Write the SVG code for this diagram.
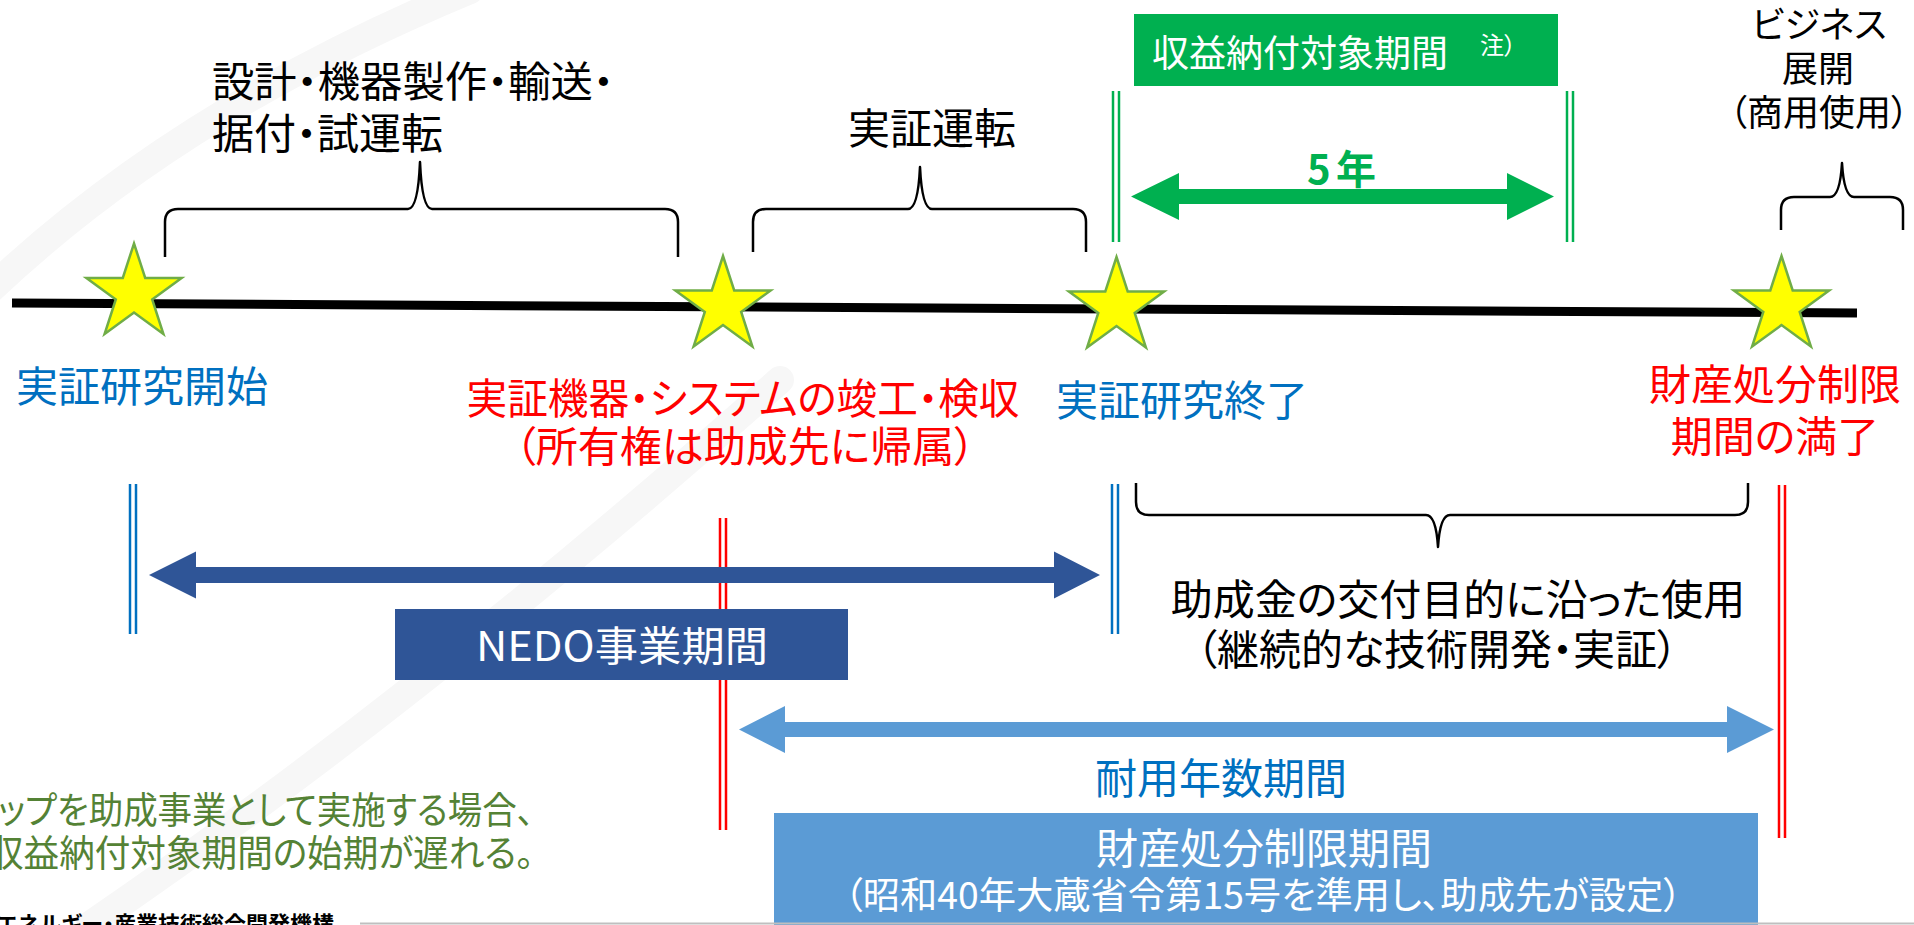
<svg xmlns="http://www.w3.org/2000/svg" width="1914" height="925" viewBox="0 0 1914 925">
<defs>
<style>
text{font-family:"Noto Sans CJK JP","Noto Sans CJK SC",sans-serif;font-feature-settings:"palt";}
.k{fill:#000;font-size:42px;}
.blu{fill:#0070C0;font-size:42px;}
.red{fill:#FF0000;font-size:42px;}
.wht{fill:#FFFFFF;}
.mid{text-anchor:middle;}
.brace{fill:none;stroke:#000;stroke-width:2.5;stroke-linejoin:round;}
.dg{stroke:#00B050;stroke-width:2.5;}
.db{stroke:#0070C0;stroke-width:2.5;}
.dr{stroke:#FF0000;stroke-width:2.5;}
.star{fill:#FFFF00;stroke:#70AD47;stroke-width:2.5;stroke-linejoin:miter;}
</style>
<polygon id="starShape" points="0,-50 11.2,-15.5 47.6,-15.5 18.2,5.9 29.4,40.5 0,19.1 -29.4,40.5 -18.2,5.9 -47.6,-15.5 -11.2,-15.5"/>
</defs>
<rect x="0" y="0" width="1914" height="925" fill="#FFFFFF"/>
<g id="watermark" fill="none" stroke="#F7F7F7" stroke-width="28" stroke-linecap="round">
<path d="M-10,290 Q180,110 470,-10"/>
<path d="M90,925 Q420,700 780,380"/>
</g>

<g id="timeline">
<line x1="12" y1="303" x2="1857" y2="313" stroke="#000" stroke-width="9"/>
</g>

<g id="connectors">
<path class="brace" d="M165,257 L165,222 Q165,209 178,209 L408,209 Q418,209 420,162 Q422,209 432,209 L665,209 Q678,209 678,222 L678,257"/>
<path class="brace" d="M753,252 L753,222 Q753,209 766,209 L908,209 Q918,209 920,167 Q922,209 932,209 L1073,209 Q1086,209 1086,222 L1086,252"/>
<path class="brace" d="M1781,230 L1781,210 Q1781,197 1794,197 L1830,197 Q1840,197 1842,163 Q1844,197 1854,197 L1890,197 Q1903,197 1903,210 L1903,230"/>
<path class="brace" d="M1136,483 L1136,502 Q1136,515 1149,515 L1426,515 Q1436,515 1438,547 Q1440,515 1450,515 L1735,515 Q1748,515 1748,502 L1748,483"/>
<line class="dg" x1="1113" y1="91" x2="1113" y2="242"/><line class="dg" x1="1119" y1="91" x2="1119" y2="242"/>
<line class="dg" x1="1567" y1="91" x2="1567" y2="242"/><line class="dg" x1="1573" y1="91" x2="1573" y2="242"/>
<line class="db" x1="130" y1="484" x2="130" y2="634"/><line class="db" x1="136" y1="484" x2="136" y2="634"/>
<line class="db" x1="1112" y1="484" x2="1112" y2="634"/><line class="db" x1="1118" y1="484" x2="1118" y2="634"/>
<line class="dr" x1="720" y1="518" x2="720" y2="830"/><line class="dr" x1="726" y1="518" x2="726" y2="830"/>
<line class="dr" x1="1779" y1="485" x2="1779" y2="838"/><line class="dr" x1="1785" y1="485" x2="1785" y2="838"/>
<polygon fill="#00B050" points="1131,196.5 1179,173 1179,189 1507,189 1507,173 1554,196.5 1507,220 1507,204 1179,204 1179,220"/>
<polygon fill="#2F5597" points="149,575 196,551.5 196,567 1054,567 1054,551.5 1100,575 1054,598.5 1054,583 196,583 196,598.5"/>
<polygon fill="#5B9BD5" points="739,729.5 785,706 785,722 1727,722 1727,706 1774,729.5 1727,753 1727,737 785,737 785,753"/>
</g>

<g id="star1"><use href="#starShape" class="star" transform="translate(134,293.5)"/></g>
<g id="star2"><use href="#starShape" class="star" transform="translate(723,306)"/></g>
<g id="star3"><use href="#starShape" class="star" transform="translate(1116.5,307)"/></g>
<g id="star4"><use href="#starShape" class="star" transform="translate(1781.5,306)"/></g>

<g id="label-design">
<text class="k" x="212" y="97" textLength="402" lengthAdjust="spacingAndGlyphs">設計・機器製作・輸送・</text>
<text class="k" x="212" y="149">据付・試運転</text>
</g>
<g id="label-operation"><text class="k" x="848" y="144">実証運転</text></g>

<g id="revenue-box">
<rect x="1134" y="14" width="424" height="72" fill="#00B050"/>
<text class="wht" x="1152" y="67" font-size="37">収益納付対象期間</text>
<text class="wht" x="1480" y="54" font-size="24">注）</text>
</g>
<g id="label-5y"><text x="1307" y="184" fill="#00B050" font-size="40" font-weight="700">5<tspan x="1336">年</tspan></text></g>

<g id="label-business">
<text class="k mid" x="1819" y="38" style="font-size:36px">ビジネス</text>
<text class="k mid" x="1818" y="82" style="font-size:36px">展開</text>
<text class="k mid" x="1819" y="126" style="font-size:36px">（商用使用）</text>
</g>

<g id="label-start"><text class="blu" x="16" y="402">実証研究開始</text></g>
<g id="label-complete">
<text class="red mid" x="743" y="414" textLength="553" lengthAdjust="spacingAndGlyphs">実証機器・システムの竣工・検収</text>
<text class="red mid" x="745" y="462">（所有権は助成先に帰属）</text>
</g>
<g id="label-end"><text class="blu" x="1056" y="416">実証研究終了</text></g>
<g id="label-expire">
<text class="red mid" x="1775" y="400">財産処分制限</text>
<text class="red mid" x="1775" y="452">期間の満了</text>
</g>

<g id="label-use">
<text class="k mid" x="1458" y="615">助成金の交付目的に沿った使用</text>
<text class="k mid" x="1437" y="665">（継続的な技術開発・実証）</text>
</g>

<g id="nedo-box">
<rect x="395" y="609" width="453" height="71" fill="#2F5597"/>
<text class="wht mid" x="622" y="661" font-size="41" textLength="292" lengthAdjust="spacingAndGlyphs">NEDO事業期間</text>
</g>

<g id="label-life"><text class="blu mid" x="1221" y="794">耐用年数期間</text></g>

<g id="disposal-box">
<rect x="774" y="813" width="984" height="115" fill="#5B9BD5"/>
<text class="wht mid" x="1264" y="864" font-size="42">財産処分制限期間</text>
<text class="wht mid" x="1263" y="909" font-size="37" textLength="838" lengthAdjust="spacingAndGlyphs">（昭和40年大蔵省令第15号を準用し、助成先が設定）</text>
</g>

<g id="note">
<text x="534" y="824" fill="#548235" font-size="37" text-anchor="end" textLength="536" lengthAdjust="spacingAndGlyphs">ップを助成事業として実施する場合、</text>
<text x="534" y="867" fill="#548235" font-size="37" text-anchor="end" textLength="546" lengthAdjust="spacingAndGlyphs">収益納付対象期間の始期が遅れる。</text>
</g>

<g id="footer">
<line x1="360" y1="923.5" x2="1914" y2="923.5" stroke="#BFBFBF" stroke-width="2"/>
<text x="334" y="932" fill="#000" font-size="22" font-weight="700" text-anchor="end">新エネルギー・産業技術総合開発機構</text>
</g>
</svg>
